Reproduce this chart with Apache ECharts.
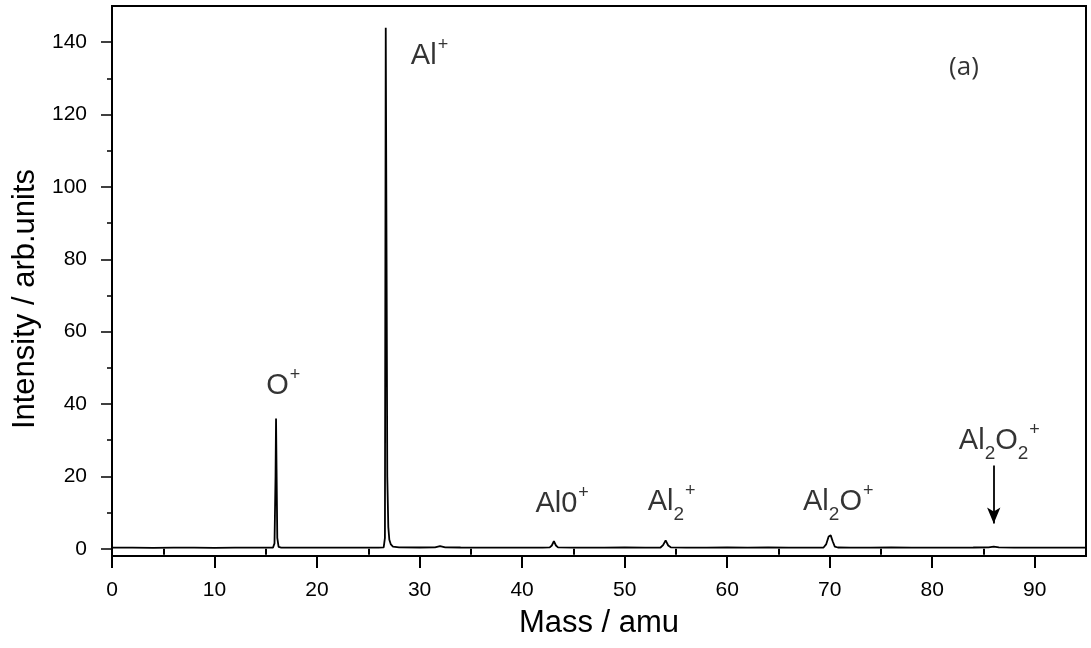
<!DOCTYPE html>
<html>
<head>
<meta charset="utf-8">
<script src="https://cdn.jsdelivr.net/npm/echarts@6/dist/echarts.min.js"></script>
<style>
html,body{margin:0;padding:0;background:#fff;}
#chart{width:1091px;height:648px;}
</style>
</head>
<body>
<div id="chart"></div>
<script>
// Mass spectrum (mass in amu, intensity in arb. units)
const mass = [0, 2, 4, 6, 8, 10, 12, 14, 15.7, 15.85, 15.95, 16.0, 16.05, 16.12, 16.25, 16.5, 18, 20, 22, 24, 26, 26.5, 26.62, 26.7, 26.78, 26.85, 26.95, 27.05, 27.2, 27.4, 28, 30, 31.5, 32, 32.5, 34, 36, 38, 40, 42, 42.7, 42.9, 43.1, 43.3, 43.5, 45, 48, 50, 52, 53.5, 53.75, 54.0, 54.25, 54.5, 56, 58, 60, 62, 64, 66, 68, 69.4, 69.65, 69.9, 70.1, 70.3, 70.5, 70.8, 72, 74, 76, 78, 80, 82, 84, 85.5, 86, 86.5, 88, 90, 92, 95];
const intensity = [0.3, 0.3, 0.25, 0.3, 0.3, 0.25, 0.3, 0.3, 0.3, 1.5, 20, 36, 22, 3, 0.5, 0.3, 0.3, 0.3, 0.3, 0.3, 0.3, 0.4, 3, 144, 80, 20, 6, 2.5, 1.2, 0.6, 0.4, 0.35, 0.4, 0.7, 0.4, 0.35, 0.3, 0.3, 0.3, 0.3, 0.4, 0.9, 2.1, 0.9, 0.4, 0.3, 0.3, 0.35, 0.3, 0.35, 1.0, 2.3, 0.9, 0.4, 0.3, 0.3, 0.35, 0.3, 0.4, 0.3, 0.3, 0.35, 1.2, 3.4, 3.7, 2.0, 0.6, 0.35, 0.3, 0.3, 0.35, 0.3, 0.3, 0.3, 0.35, 0.4, 0.6, 0.4, 0.3, 0.3, 0.3, 0.3];

// Axis ticks
const xMajorTicks = [0, 10, 20, 30, 40, 50, 60, 70, 80, 90];
const xMinorTicks = [5, 15, 25, 35, 45, 55, 65, 75, 85];
const yMajorTicks = [0, 20, 40, 60, 80, 100, 120, 140];
const yMinorTicks = [10, 30, 50, 70, 90, 110, 130];

// Peak annotations: text and anchor [mass, intensity]
const peakLabelText = ['{m|O}{sup|+}', '{m|Al}{sup|+}', '{m|Al0}{sup|+}', '{m|Al}{sub|2}{sup|+}', '{m|Al}{sub|2}{m|O}{sup|+}', '{m|Al}{sub|2}{m|O}{sub|2}{sup|+}'];
const peakLabelAnchor = [[15.05, 45.0], [29.15, 136.2], [41.3, 12.3], [52.25, 12.8], [67.4, 12.8], [82.6, 29.8]];
const panelLabel = '(a)';
const panelAnchor = [83.1, 133.0];
const arrowFrom = [86, 23];
const arrowTo = [86, 7];

const seriesData = mass.map((m, i) => [m, intensity[i]]);

const rich = {
  m: {fontFamily: 'Liberation Sans', fontSize: 29, color: '#000', lineHeight: 44, verticalAlign: 'middle'},
  sup: {fontFamily: 'Liberation Sans', fontSize: 18, color: '#000', lineHeight: 44, verticalAlign: 'top', padding: [2, 0, 0, 1]},
  sub: {fontFamily: 'Liberation Sans', fontSize: 19, color: '#000', lineHeight: 44, verticalAlign: 'bottom', padding: [0, 0, 0, 0]}
};

const labelData = peakLabelAnchor.map((p, i) => ({
  value: p,
  label: {show: true, formatter: peakLabelText[i], position: [0, 0], align: 'left', verticalAlign: 'middle', rich: rich}
}));
labelData.push({
  value: panelAnchor,
  label: {show: true, formatter: panelLabel, position: [0, 0], align: 'center', verticalAlign: 'middle',
          fontFamily: 'Open Sans', fontSize: 26, color: '#000'}
});

const chart = echarts.init(document.getElementById('chart'), null, {renderer: 'canvas'});
const axisFont = {fontFamily: 'Liberation Sans', fontSize: 21, color: '#000'};
const option = {
  animation: false,
  backgroundColor: '#fff',
  grid: {left: 112, right: 5, top: 6, bottom: 92, show: true, borderColor: '#000', borderWidth: 2, backgroundColor: 'transparent'},
  xAxis: [{
    type: 'value', min: 0, max: 95, position: 'bottom',
    name: 'Mass / amu', nameLocation: 'middle', nameGap: 52,
    nameTextStyle: {fontFamily: 'Liberation Sans', fontSize: 31, color: '#000'},
    axisLine: {show: true, onZero: false, lineStyle: {color: '#000', width: 2}},
    axisTick: {show: true, inside: false, length: 12, customValues: xMajorTicks, lineStyle: {color: '#000', width: 2}},
    axisLabel: Object.assign({show: true, margin: 24, customValues: xMajorTicks}, axisFont),
    splitLine: {show: false}
  }, {
    type: 'value', min: 0, max: 95, position: 'bottom', offset: 0,
    axisLine: {show: false},
    axisTick: {show: true, inside: false, length: 6, customValues: xMinorTicks, lineStyle: {color: '#000', width: 2}},
    axisLabel: {show: false},
    splitLine: {show: false}
  }],
  yAxis: [{
    type: 'value', min: -2, max: 150, position: 'left',
    name: 'Intensity / arb.units', nameLocation: 'middle', nameGap: 66,
    nameTextStyle: {fontFamily: 'Liberation Sans', fontSize: 31, color: '#000', padding: [0, 36, 0, 0]},
    axisLine: {show: true, onZero: false, lineStyle: {color: '#000', width: 2}},
    axisTick: {show: true, inside: false, length: 11, customValues: yMajorTicks, lineStyle: {color: '#000', width: 1.5}},
    axisLabel: Object.assign({show: true, margin: 25, customValues: yMajorTicks}, axisFont),
    splitLine: {show: false}
  }, {
    type: 'value', min: -2, max: 150, position: 'left', offset: 0,
    axisLine: {show: false},
    axisTick: {show: true, inside: false, length: 5, customValues: yMinorTicks, lineStyle: {color: '#000', width: 1.5}},
    axisLabel: {show: false},
    splitLine: {show: false}
  }],
  series: [{
    type: 'line',
    xAxisIndex: 0, yAxisIndex: 0,
    data: seriesData,
    showSymbol: false,
    symbol: 'none',
    lineStyle: {color: '#000', width: 1.8},
    silent: true,
    markLine: {
      silent: true,
      symbol: ['none', 'arrow'],
      symbolSize: [10, 16],
      label: {show: false},
      lineStyle: {color: '#000', width: 1.8, type: 'solid'},
      data: [[{coord: arrowFrom}, {coord: arrowTo}]]
    }
  }, {
    type: 'scatter',
    xAxisIndex: 0, yAxisIndex: 0,
    symbolSize: 0,
    silent: true,
    data: labelData
  }]
};
chart.setOption(option);
</script>
</body>
</html>
